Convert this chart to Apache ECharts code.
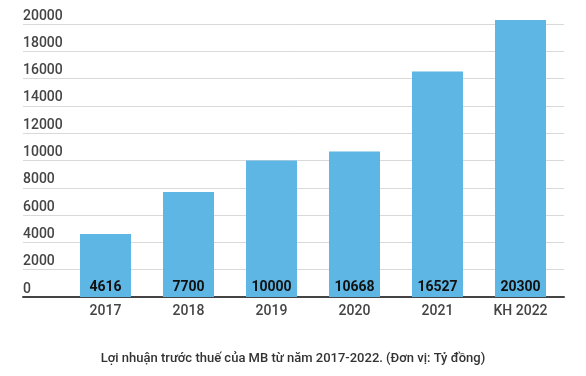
<!DOCTYPE html>
<html>
<head>
<meta charset="utf-8">
<script src="https://cdn.jsdelivr.net/npm/echarts@6/dist/echarts.min.js"></script>
<style>
  html, body { margin: 0; padding: 0; background: #fff; }
  #chart { width: 586px; height: 376px; }
</style>
</head>
<body>
<div id="chart"></div>
<script>
const years = ["2017", "2018", "2019", "2020", "2021", "KH 2022"];
const profit = [4616, 7700, 10000, 10668, 16527, 20300];
const yMax = 20000;
const yStep = 2000;
const caption = "Lợi nhuận trước thuế của MB từ năm 2017-2022. (Đơn vị: Tỷ đồng)";

const chart = echarts.init(document.getElementById("chart"));
const font = "Roboto, 'Noto Sans', sans-serif";

const option = {
  animation: false,
  textStyle: { fontFamily: font },
  title: {
    text: caption,
    left: "center",
    top: 347,
    textStyle: { fontSize: 13, fontWeight: 500, color: "#333", fontFamily: font }
  },
  grid: [
    // background grid: split lines + labels + base line, full width
    { left: 23, right: 22, top: 24, bottom: 79 },
    // bars
    { left: 64, right: 24, top: 24, bottom: 79 }
  ],
  xAxis: [
    {
      gridIndex: 0, type: "value", min: 0, max: 1,
      axisLine: { show: true, onZero: false, lineStyle: { color: "#444", width: 2 } },
      axisTick: { show: false }, axisLabel: { show: false }, splitLine: { show: false }
    },
    {
      gridIndex: 1, type: "category", data: years,
      axisLine: { show: false }, axisTick: { show: false },
      axisLabel: { color: "#444", fontSize: 14, fontWeight: 500, margin: 7, fontFamily: font }
    }
  ],
  yAxis: [
    {
      gridIndex: 0, type: "value", min: 0, max: yMax, interval: yStep,
      axisLine: { show: false }, axisTick: { show: false },
      axisLabel: {
        inside: true, align: "left", verticalAlign: "bottom", margin: 0,
        padding: [0, 0, 1, 0], color: "#444", fontSize: 14, fontWeight: 500, fontFamily: font,
        formatter: (v) => String(v)
      },
      splitLine: { lineStyle: { color: "#d9d9d9", width: 1 } }
    },
    {
      gridIndex: 1, type: "value", min: 0, max: yMax, show: false,
      splitLine: { show: false }
    }
  ],
  series: [{
    type: "bar",
    xAxisIndex: 1, yAxisIndex: 1,
    data: profit,
    barWidth: 51,
    clip: false,
    itemStyle: { color: "#5eb6e4" },
    label: {
      show: true, position: "insideBottom", distance: 3,
      color: "#111", fontWeight: "bold", fontSize: 14, fontFamily: font
    }
  }]
};
chart.setOption(option);
</script>
</body>
</html>
